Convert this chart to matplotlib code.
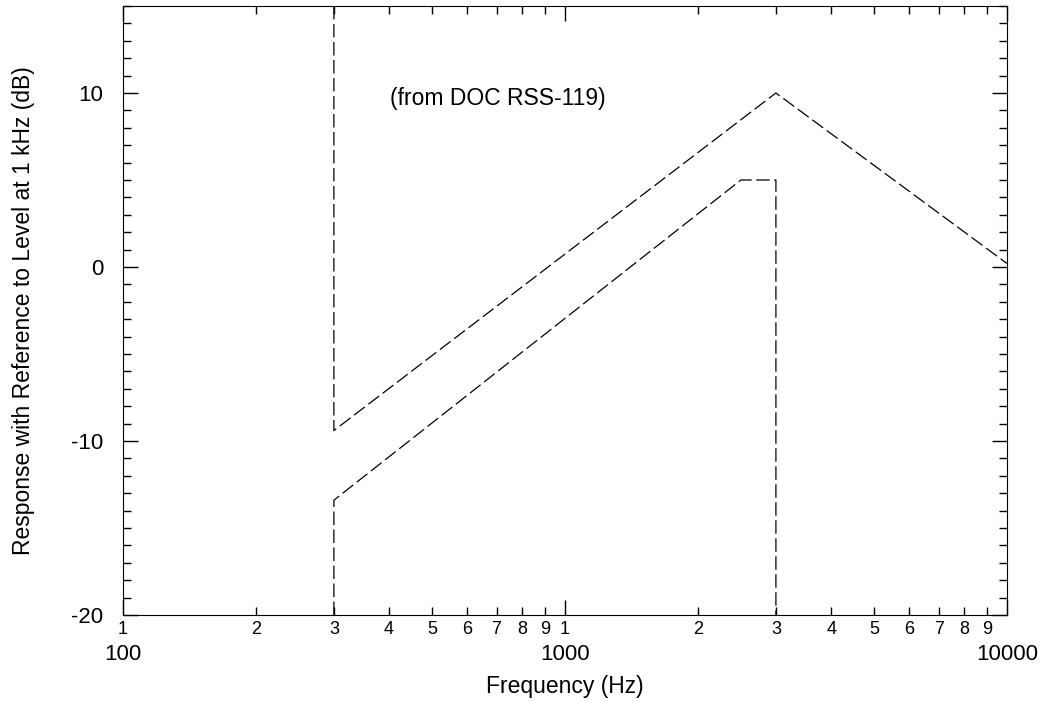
import numpy as np
import matplotlib.pyplot as plt

plt.rcParams['font.family'] = ['Liberation Sans', 'DejaVu Sans']

# 上面的限值曲线
upper_f = [300, 300, 3000, 10000]
upper_db = [15, -9.4, 10, 0.2]

# 下面的限值曲线
lower_f = [300, 300, 2500, 3000, 3000]
lower_db = [-20, -13.4, 5, 5, -20]

# 刻度
decades = [100, 1000, 10000]
decade_digits = ['1', '1', '']
minor_f = [200, 300, 400, 500, 600, 700, 800, 900,
           2000, 3000, 4000, 5000, 6000, 7000, 8000, 9000]
minor_digits = ['2', '3', '4', '5', '6', '7', '8', '9'] * 2
y_major = [-20, -10, 0, 10]

note = '(from DOC RSS-119)'

fig = plt.figure(figsize=(10.44, 7.02), dpi=100)
ax = fig.add_axes([0.1178, 0.1239, 0.8468, 0.8676])

dash = (10.8, 3.6)
ax.plot(upper_f, upper_db, color='black', lw=0.9, dashes=dash)
ax.plot(lower_f, lower_db, color='black', lw=0.9, dashes=dash)

ax.set_xscale('log')
ax.set_xlim(100, 10000)
ax.set_ylim(-20, 15)

ax.set_xticks(decades, labels=decade_digits)
ax.set_xticks(minor_f, labels=minor_digits, minor=True)
ax.set_yticks(y_major, labels=[str(v) for v in y_major])
ax.set_yticks(np.arange(-20, 16, 1), minor=True)

ax.tick_params(axis='both', which='both', direction='in', top=True, right=True)
ax.tick_params(axis='x', which='both', labelsize=13, pad=4)
ax.tick_params(axis='y', which='major', labelsize=16, pad=14)
ax.tick_params(which='major', length=11, width=1)
ax.tick_params(which='minor', length=5.5, width=1)

for f in decades:
    ax.text(f, -0.065, str(f), transform=ax.get_xaxis_transform(),
            ha='center', va='center', fontsize=16)

ax.text(705, 9.7, note, ha='center', va='center', fontsize=16.5)

ax.set_xlabel('Frequency (Hz)', fontsize=16.5, labelpad=27)
ax.set_ylabel('Response with Reference to Level at 1 kHz (dB)', fontsize=16.5, labelpad=26)

fig.savefig('out.png', dpi=100)
